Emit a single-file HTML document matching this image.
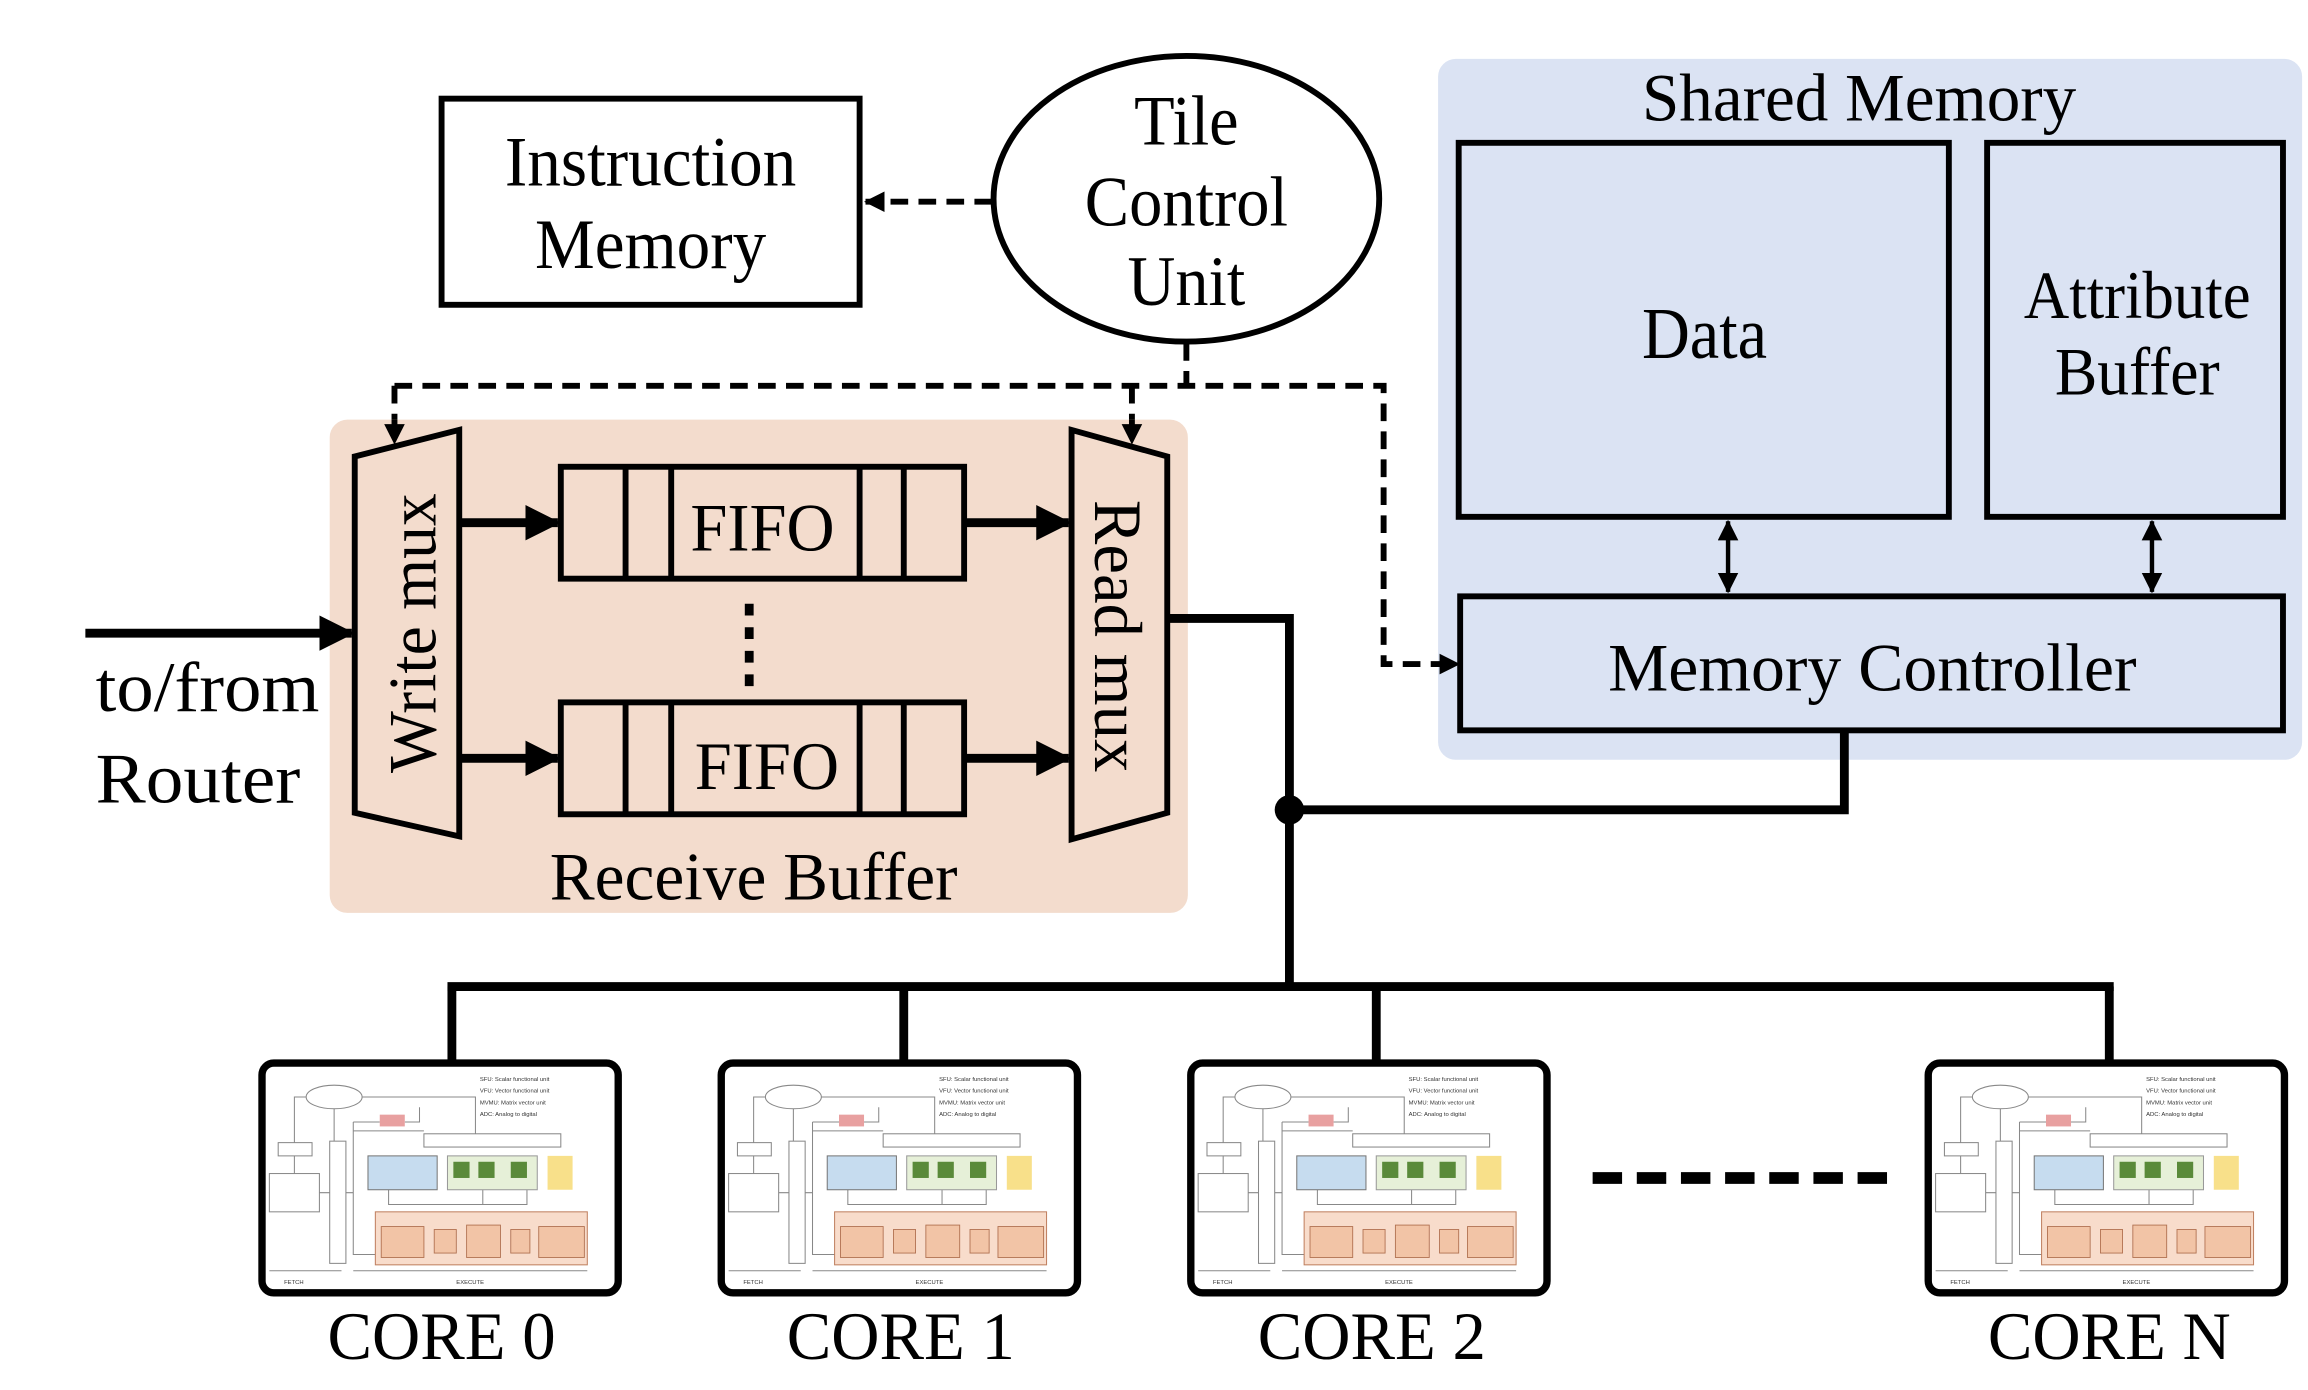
<!DOCTYPE html>
<html><head><meta charset="utf-8"><style>
html,body{margin:0;padding:0;background:#fff;}
svg{display:block;}
text{font-family:"Liberation Serif",serif;fill:#000;}
.t{font-family:"Liberation Sans",sans-serif;font-size:4px;fill:#333;}
</style></head><body>
<svg width="2308" height="1390" viewBox="0 0 1568 944" preserveAspectRatio="none" xmlns="http://www.w3.org/2000/svg">
<defs>
<marker id="ab" markerWidth="24" markerHeight="24" refX="22" refY="12" orient="auto" markerUnits="userSpaceOnUse"><path d="M0,0 L24,12 L0,24 z" fill="#000"/></marker>
<marker id="am" markerWidth="14" markerHeight="14" refX="13" refY="7" orient="auto" markerUnits="userSpaceOnUse"><path d="M0,0 L14,7 L0,14 z" fill="#000"/></marker>
<marker id="ams" markerWidth="14" markerHeight="14" refX="1" refY="7" orient="auto" markerUnits="userSpaceOnUse"><path d="M14,0 L0,7 L14,14 z" fill="#000"/></marker>
</defs>

<rect x="977" y="40" width="587" height="476" rx="12" fill="#dbe3f3"/>
<text x="1263" y="82" font-size="46" text-anchor="middle" textLength="295" lengthAdjust="spacingAndGlyphs">Shared Memory</text>
<rect x="991" y="97" width="333" height="254" fill="#dbe3f3" stroke="#000" stroke-width="4"/>
<text x="1158" y="243" font-size="50" text-anchor="middle" textLength="85" lengthAdjust="spacingAndGlyphs">Data</text>
<rect x="1350" y="97" width="201" height="254" fill="#dbe3f3" stroke="#000" stroke-width="4"/>
<text x="1452" y="216" font-size="46" text-anchor="middle" textLength="154" lengthAdjust="spacingAndGlyphs">Attribute</text>
<text x="1452" y="268" font-size="46" text-anchor="middle" textLength="112" lengthAdjust="spacingAndGlyphs">Buffer</text>
<rect x="992" y="405" width="559" height="91" fill="#dbe3f3" stroke="#000" stroke-width="4"/>
<text x="1272" y="469" font-size="46" text-anchor="middle" textLength="359" lengthAdjust="spacingAndGlyphs">Memory Controller</text>
<line x1="1174" y1="354" x2="1174" y2="402" stroke="#000" stroke-width="3" marker-start="url(#ams)" marker-end="url(#am)"/>
<line x1="1462" y1="354" x2="1462" y2="402" stroke="#000" stroke-width="3" marker-start="url(#ams)" marker-end="url(#am)"/>

<rect x="300" y="67" width="284" height="140" fill="#fff" stroke="#000" stroke-width="4"/>
<text x="442" y="126" font-size="48" text-anchor="middle" textLength="198" lengthAdjust="spacingAndGlyphs">Instruction</text>
<text x="442" y="182" font-size="48" text-anchor="middle" textLength="157" lengthAdjust="spacingAndGlyphs">Memory</text>
<ellipse cx="806" cy="135" rx="131" ry="97" fill="#fff" stroke="#000" stroke-width="4"/>
<text x="806" y="98" font-size="48" text-anchor="middle" textLength="71" lengthAdjust="spacingAndGlyphs">Tile</text>
<text x="806" y="153" font-size="48" text-anchor="middle" textLength="138" lengthAdjust="spacingAndGlyphs">Control</text>
<text x="806" y="207" font-size="48" text-anchor="middle" textLength="80" lengthAdjust="spacingAndGlyphs">Unit</text>
<line x1="674" y1="137" x2="588" y2="137" stroke="#000" stroke-width="4" stroke-dasharray="12,7" marker-end="url(#am)"/>

<g fill="none" stroke="#000" stroke-width="4" stroke-dasharray="12,7">
<polyline points="806,233 806,262"/>
<polyline points="268,262 940,262 940,451 985,451"/>
<line x1="268" y1="262" x2="268" y2="298"/>
<line x1="769" y1="262" x2="769" y2="298"/>
</g>
<path d="M978,444 L992,451 L978,458 z"/>

<rect x="224" y="285" width="583" height="335" rx="12" fill="#f3dccd"/>
<line x1="268" y1="285" x2="268" y2="292" stroke="#000" stroke-width="4"/>
<line x1="769" y1="285" x2="769" y2="292" stroke="#000" stroke-width="4"/>
<text x="512" y="611" font-size="46" text-anchor="middle" textLength="277" lengthAdjust="spacingAndGlyphs">Receive Buffer</text>
<polygon points="241,310 312,292 312,568 241,552" fill="#f3dccd" stroke="#000" stroke-width="4"/>
<polygon points="728,292 793,310 793,552 728,570" fill="#f3dccd" stroke="#000" stroke-width="4"/>
<path d="M261,288 L268,302 L275,288 z"/>
<path d="M762,288 L769,302 L776,288 z"/>
<text transform="translate(296,430) rotate(-90)" font-size="46" text-anchor="middle" textLength="190" lengthAdjust="spacingAndGlyphs">Write mux</text>
<text transform="translate(744,432) rotate(90)" font-size="46" text-anchor="middle" textLength="185" lengthAdjust="spacingAndGlyphs">Read mux</text>
<g fill="none" stroke="#000" stroke-width="4">
<rect x="381" y="317" width="274" height="76"/>
<rect x="381" y="477" width="274" height="76"/>
<path d="M425,317V393M456,317V393M584,317V393M614,317V393M425,477V553M456,477V553M584,477V553M614,477V553"/>
</g>
<text x="518" y="374" font-size="46" text-anchor="middle" textLength="98" lengthAdjust="spacingAndGlyphs">FIFO</text>
<text x="521" y="536" font-size="46" text-anchor="middle" textLength="98" lengthAdjust="spacingAndGlyphs">FIFO</text>
<line x1="509" y1="410" x2="509" y2="468" stroke="#000" stroke-width="6" stroke-dasharray="8,8"/>
<g stroke="#000" stroke-width="6">
<line x1="312" y1="355" x2="379" y2="355" marker-end="url(#ab)"/>
<line x1="312" y1="515" x2="379" y2="515" marker-end="url(#ab)"/>
<line x1="655" y1="355" x2="726" y2="355" marker-end="url(#ab)"/>
<line x1="655" y1="515" x2="726" y2="515" marker-end="url(#ab)"/>
<line x1="58" y1="430" x2="239" y2="430" marker-end="url(#ab)"/>
</g>
<text x="65" y="483" font-size="48" textLength="152" lengthAdjust="spacingAndGlyphs">to/from</text>
<text x="65" y="545" font-size="48" textLength="139" lengthAdjust="spacingAndGlyphs">Router</text>

<g fill="none" stroke="#000" stroke-width="6">
<polyline points="793,420 876,420 876,670"/>
<polyline points="1253,496 1253,550 876,550"/>
<line x1="304" y1="670" x2="1436" y2="670"/>
<path d="M307,670V724M614,670V724M935,670V724M1433,670V724"/>
</g>
<circle cx="876" cy="550" r="10" fill="#000"/>
<line x1="1082" y1="800" x2="1283" y2="800" stroke="#000" stroke-width="8" stroke-dasharray="20,10"/>

<g transform="translate(178,722)">
<rect x="0" y="0" width="242" height="156" rx="8" fill="#fff" stroke="#000" stroke-width="5"/>
<g fill="none" stroke="#888" stroke-width="0.7"><ellipse cx="49" cy="23" rx="19" ry="8"/><rect x="11" y="54" width="23" height="9"/><rect x="5" y="75" width="34" height="26"/><rect x="46" y="53" width="11" height="83"/><path d="M30,23H22V54M49,31V53M22,63V75M39,88H46M57,88H62M62,40V130H77M62,46H110M62,40H80M97,40H107V30M68,23H145V48M5,141H54M62,141H221M86,86V96H180V86M150,86V96"/></g>
<rect x="80" y="35" width="17" height="8" fill="#e8a0a0"/><rect x="110" y="48" width="93" height="9" fill="#fff" stroke="#888" stroke-width="0.7"/><rect x="72" y="63" width="47" height="23" fill="#c6dcef" stroke="#777" stroke-width="0.7"/><rect x="126" y="63" width="61" height="23" fill="#e6f0d8" stroke="#999" stroke-width="0.7"/><rect x="130" y="67" width="11" height="11" fill="#5a8a3a"/><rect x="147" y="67" width="11" height="11" fill="#5a8a3a"/><rect x="169" y="67" width="11" height="11" fill="#5a8a3a"/><rect x="194" y="63" width="17" height="23" fill="#f8e08a"/><rect x="77" y="101" width="144" height="36" fill="#f8dccb" stroke="#c08060" stroke-width="0.7"/>
<g fill="#f2c4a6" stroke="#b07050" stroke-width="0.6"><rect x="81" y="111" width="29" height="21"/><rect x="117" y="113" width="15" height="16"/><rect x="139" y="110" width="23" height="22"/><rect x="169" y="113" width="13" height="16"/><rect x="188" y="111" width="31" height="21"/></g>
<text class="t" x="148" y="12">SFU: Scalar functional unit</text><text class="t" x="148" y="20">VFU: Vector functional unit</text><text class="t" x="148" y="28">MVMU: Matrix vector unit</text><text class="t" x="148" y="36">ADC: Analog to digital</text>
<text class="t" x="15" y="150">FETCH</text><text class="t" x="132" y="150">EXECUTE</text>
</g>
<g transform="translate(490,722)">
<rect x="0" y="0" width="242" height="156" rx="8" fill="#fff" stroke="#000" stroke-width="5"/>
<g fill="none" stroke="#888" stroke-width="0.7"><ellipse cx="49" cy="23" rx="19" ry="8"/><rect x="11" y="54" width="23" height="9"/><rect x="5" y="75" width="34" height="26"/><rect x="46" y="53" width="11" height="83"/><path d="M30,23H22V54M49,31V53M22,63V75M39,88H46M57,88H62M62,40V130H77M62,46H110M62,40H80M97,40H107V30M68,23H145V48M5,141H54M62,141H221M86,86V96H180V86M150,86V96"/></g>
<rect x="80" y="35" width="17" height="8" fill="#e8a0a0"/><rect x="110" y="48" width="93" height="9" fill="#fff" stroke="#888" stroke-width="0.7"/><rect x="72" y="63" width="47" height="23" fill="#c6dcef" stroke="#777" stroke-width="0.7"/><rect x="126" y="63" width="61" height="23" fill="#e6f0d8" stroke="#999" stroke-width="0.7"/><rect x="130" y="67" width="11" height="11" fill="#5a8a3a"/><rect x="147" y="67" width="11" height="11" fill="#5a8a3a"/><rect x="169" y="67" width="11" height="11" fill="#5a8a3a"/><rect x="194" y="63" width="17" height="23" fill="#f8e08a"/><rect x="77" y="101" width="144" height="36" fill="#f8dccb" stroke="#c08060" stroke-width="0.7"/>
<g fill="#f2c4a6" stroke="#b07050" stroke-width="0.6"><rect x="81" y="111" width="29" height="21"/><rect x="117" y="113" width="15" height="16"/><rect x="139" y="110" width="23" height="22"/><rect x="169" y="113" width="13" height="16"/><rect x="188" y="111" width="31" height="21"/></g>
<text class="t" x="148" y="12">SFU: Scalar functional unit</text><text class="t" x="148" y="20">VFU: Vector functional unit</text><text class="t" x="148" y="28">MVMU: Matrix vector unit</text><text class="t" x="148" y="36">ADC: Analog to digital</text>
<text class="t" x="15" y="150">FETCH</text><text class="t" x="132" y="150">EXECUTE</text>
</g>
<g transform="translate(809,722)">
<rect x="0" y="0" width="242" height="156" rx="8" fill="#fff" stroke="#000" stroke-width="5"/>
<g fill="none" stroke="#888" stroke-width="0.7"><ellipse cx="49" cy="23" rx="19" ry="8"/><rect x="11" y="54" width="23" height="9"/><rect x="5" y="75" width="34" height="26"/><rect x="46" y="53" width="11" height="83"/><path d="M30,23H22V54M49,31V53M22,63V75M39,88H46M57,88H62M62,40V130H77M62,46H110M62,40H80M97,40H107V30M68,23H145V48M5,141H54M62,141H221M86,86V96H180V86M150,86V96"/></g>
<rect x="80" y="35" width="17" height="8" fill="#e8a0a0"/><rect x="110" y="48" width="93" height="9" fill="#fff" stroke="#888" stroke-width="0.7"/><rect x="72" y="63" width="47" height="23" fill="#c6dcef" stroke="#777" stroke-width="0.7"/><rect x="126" y="63" width="61" height="23" fill="#e6f0d8" stroke="#999" stroke-width="0.7"/><rect x="130" y="67" width="11" height="11" fill="#5a8a3a"/><rect x="147" y="67" width="11" height="11" fill="#5a8a3a"/><rect x="169" y="67" width="11" height="11" fill="#5a8a3a"/><rect x="194" y="63" width="17" height="23" fill="#f8e08a"/><rect x="77" y="101" width="144" height="36" fill="#f8dccb" stroke="#c08060" stroke-width="0.7"/>
<g fill="#f2c4a6" stroke="#b07050" stroke-width="0.6"><rect x="81" y="111" width="29" height="21"/><rect x="117" y="113" width="15" height="16"/><rect x="139" y="110" width="23" height="22"/><rect x="169" y="113" width="13" height="16"/><rect x="188" y="111" width="31" height="21"/></g>
<text class="t" x="148" y="12">SFU: Scalar functional unit</text><text class="t" x="148" y="20">VFU: Vector functional unit</text><text class="t" x="148" y="28">MVMU: Matrix vector unit</text><text class="t" x="148" y="36">ADC: Analog to digital</text>
<text class="t" x="15" y="150">FETCH</text><text class="t" x="132" y="150">EXECUTE</text>
</g>
<g transform="translate(1310,722)">
<rect x="0" y="0" width="242" height="156" rx="8" fill="#fff" stroke="#000" stroke-width="5"/>
<g fill="none" stroke="#888" stroke-width="0.7"><ellipse cx="49" cy="23" rx="19" ry="8"/><rect x="11" y="54" width="23" height="9"/><rect x="5" y="75" width="34" height="26"/><rect x="46" y="53" width="11" height="83"/><path d="M30,23H22V54M49,31V53M22,63V75M39,88H46M57,88H62M62,40V130H77M62,46H110M62,40H80M97,40H107V30M68,23H145V48M5,141H54M62,141H221M86,86V96H180V86M150,86V96"/></g>
<rect x="80" y="35" width="17" height="8" fill="#e8a0a0"/><rect x="110" y="48" width="93" height="9" fill="#fff" stroke="#888" stroke-width="0.7"/><rect x="72" y="63" width="47" height="23" fill="#c6dcef" stroke="#777" stroke-width="0.7"/><rect x="126" y="63" width="61" height="23" fill="#e6f0d8" stroke="#999" stroke-width="0.7"/><rect x="130" y="67" width="11" height="11" fill="#5a8a3a"/><rect x="147" y="67" width="11" height="11" fill="#5a8a3a"/><rect x="169" y="67" width="11" height="11" fill="#5a8a3a"/><rect x="194" y="63" width="17" height="23" fill="#f8e08a"/><rect x="77" y="101" width="144" height="36" fill="#f8dccb" stroke="#c08060" stroke-width="0.7"/>
<g fill="#f2c4a6" stroke="#b07050" stroke-width="0.6"><rect x="81" y="111" width="29" height="21"/><rect x="117" y="113" width="15" height="16"/><rect x="139" y="110" width="23" height="22"/><rect x="169" y="113" width="13" height="16"/><rect x="188" y="111" width="31" height="21"/></g>
<text class="t" x="148" y="12">SFU: Scalar functional unit</text><text class="t" x="148" y="20">VFU: Vector functional unit</text><text class="t" x="148" y="28">MVMU: Matrix vector unit</text><text class="t" x="148" y="36">ADC: Analog to digital</text>
<text class="t" x="15" y="150">FETCH</text><text class="t" x="132" y="150">EXECUTE</text>
</g>
<text x="300" y="923" font-size="46" text-anchor="middle" textLength="155" lengthAdjust="spacingAndGlyphs">CORE 0</text>
<text x="612" y="923" font-size="46" text-anchor="middle" textLength="155" lengthAdjust="spacingAndGlyphs">CORE 1</text>
<text x="932" y="923" font-size="46" text-anchor="middle" textLength="155" lengthAdjust="spacingAndGlyphs">CORE 2</text>
<text x="1433" y="923" font-size="46" text-anchor="middle" textLength="165" lengthAdjust="spacingAndGlyphs">CORE N</text>
</svg>
</body></html>
